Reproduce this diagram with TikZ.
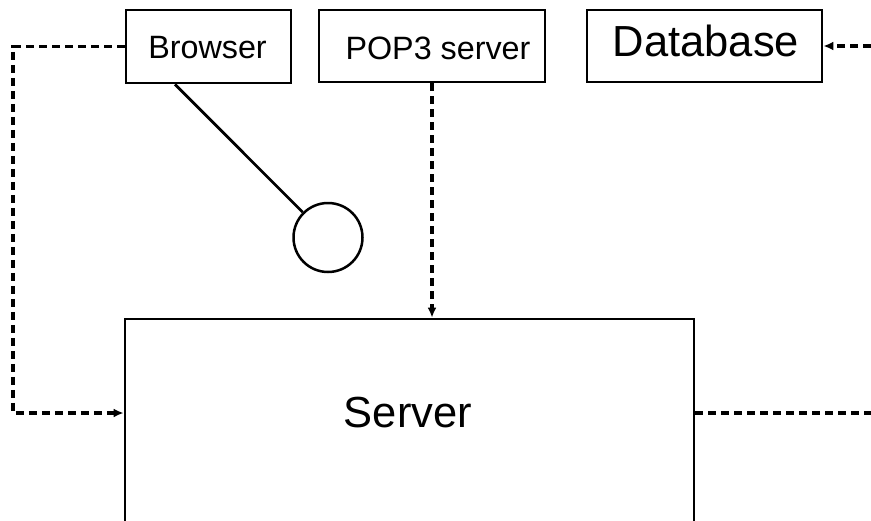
\documentclass[tikz,border=0pt]{standalone}
\usepackage{fontspec}
\setmainfont{Liberation Sans}
\usetikzlibrary{arrows.meta,calc}
\begin{document}
\begin{tikzpicture}[x=1pt,y=-1pt,
  box/.style={draw,line width=2.8pt,rectangle,inner sep=0pt},
  smalltext/.style={font=\fontsize{32.3}{38}\selectfont},
  bigtext/.style={font=\fontsize{43.5}{50}\selectfont},
  dashline/.style={line width=3.2pt,dash pattern=on 8pt off 5pt},
  dasharrow/.style={dashline,-{Latex[length=10pt,width=9pt]}},
  solidline/.style={line width=2.8pt}]
\useasboundingbox (0,0) rectangle (871,520);

% boxes along the top
\node[box,minimum width=165pt,minimum height=73pt] (browser) at (208.5,46.5) {};
\node[smalltext] at (207.5,48) {Browser};
\node[box,minimum width=226pt,minimum height=72pt] (pop3) at (432,46) {};
\node[smalltext] at (438,48) {POP3 server};
\node[box,minimum width=235pt,minimum height=72pt] (database) at (704.5,46) {};
\node[bigtext] at (706,41) {Database};

% circle hanging from the browser
\node[draw,circle,line width=2.5pt,minimum size=69pt,inner sep=0pt] (circ) at (328,237.5) {};

% server box, running past the lower edge
\node[box,minimum width=569pt,minimum height=221pt] (server) at (409.5,429.5) {};
\node[bigtext] (servertext) at (408,413) {Server};

% connectors
\coordinate (leftturn) at (13,46.5);
\coordinate (dbfeed) at (871,46);
\coordinate (rightend) at (871,413);

\draw[solidline] ($(browser.south west)!0.3!(browser.south east)$) -- (circ);
\draw[dasharrow] (browser.west) -- (leftturn) |- (server.west |- servertext);
\draw[dasharrow] (pop3.south) -- (pop3.south |- server.north);
\draw[dasharrow] (dbfeed) -- (database.east);
\draw[dashline] (server.east |- servertext) -- (rightend);
\end{tikzpicture}
\end{document}
